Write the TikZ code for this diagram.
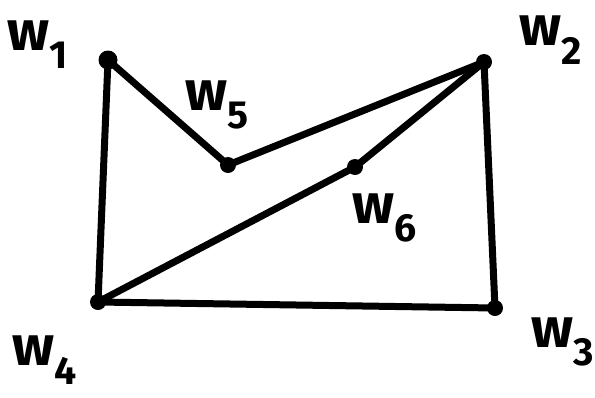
\documentclass[tikz,border=0pt]{standalone}
\usepackage{fontspec}
\setmainfont{Fira Sans}
\begin{document}
\begin{tikzpicture}[x=1pt,y=-1pt,
  vtx/.style={circle,fill=black,inner sep=0pt,minimum size=16pt},
  edge/.style={line width=7pt,line cap=round,line join=round},
  lbl/.style={inner sep=0pt,font=\fontsize{56}{56}\selectfont\bfseries}]
\useasboundingbox (0,0) rectangle (595,397);
\node[vtx,minimum size=19pt] (w1) at (108,60) {};
\node[vtx] (w2) at (484,62) {};
\node[vtx] (w3) at (495,308) {};
\node[vtx] (w4) at (98,302) {};
\node[vtx] (w5) at (228,165) {};
\node[vtx] (w6) at (355,167) {};
\draw[edge] (w1.center) -- (w5.center) -- (w2.center);
\draw[edge] (w1.center) -- (w4.center);
\draw[edge] (w2.center) -- (w3.center);
\draw[edge] (w4.center) -- (w3.center);
\draw[edge] (w4.center) -- (w6.center) -- (w2.center);
\node[lbl] (l1) at (38,45) {w\textsubscript{1}};
\node[lbl] (l2) at (551,40) {w\textsubscript{2}};
\node[lbl] (l3) at (563,342) {w\textsubscript{3}};
\node[lbl] (l4) at (45,360) {w\textsubscript{4}};
\node[lbl] (l5) at (217,105) {w\textsubscript{5}};
\node[lbl] (l6) at (385,218) {w\textsubscript{6}};
\end{tikzpicture}
\end{document}
